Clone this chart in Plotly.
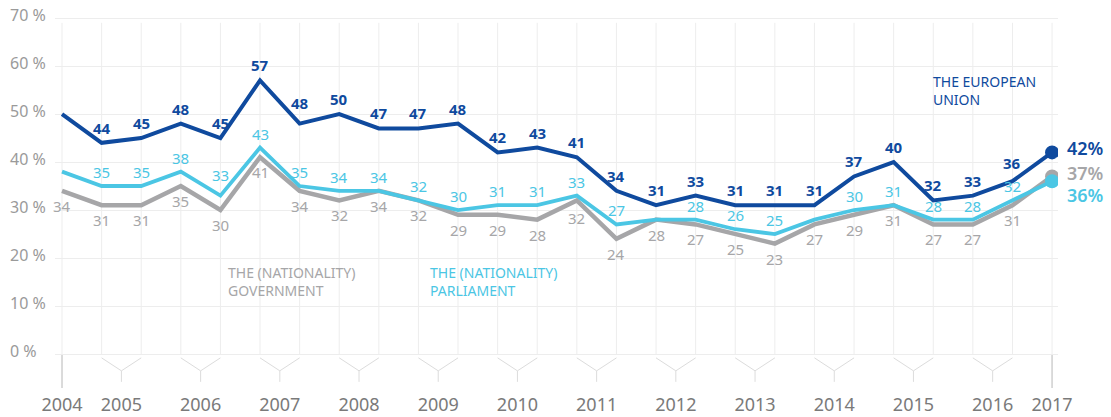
import plotly.graph_objects as go

# ---- data ----
years = ["2004", "2005", "2006", "2007", "2008", "2009", "2010",
         "2011", "2012", "2013", "2014", "2015", "2016", "2017"]
year_pos = [0, 1.5, 3.5, 5.5, 7.5, 9.5, 11.5, 13.5, 15.5, 17.5, 19.5, 21.5, 23.5, 25]

eu = [50, 44, 45, 48, 45, 57, 48, 50, 47, 47, 48, 42, 43, 41, 34, 31, 33, 31, 31, 31,
      37, 40, 32, 33, 36, 42]
parliament = [38, 35, 35, 38, 33, 43, 35, 34, 34, 32, 30, 31, 31, 33, 27, 28, 28, 26, 25, 28,
              30, 31, 28, 28, 32, 36]
government = [34, 31, 31, 35, 30, 41, 34, 32, 34, 32, 29, 29, 28, 32, 24, 28, 27, 25, 23, 27,
              29, 31, 27, 27, 31, 37]

y_ticks = [0, 10, 20, 30, 40, 50, 60, 70]

EU_C = "#0F4A9E"
PARL_C = "#4BC6E4"
GOV_C = "#A6A6A8"
FONT = "Noto Sans"

n = len(eu)
xs = list(range(n))

fig = go.Figure()

# lines
for vals, col, w in [(government, GOV_C, 4.5), (parliament, PARL_C, 3.8), (eu, EU_C, 4)]:
    fig.add_trace(go.Scatter(x=xs, y=vals, mode="lines", line=dict(color=col, width=w),
                             hoverinfo="skip", showlegend=False))

# end markers
for vals, col in [(government, GOV_C), (parliament, PARL_C), (eu, EU_C)]:
    fig.add_trace(go.Scatter(x=[xs[-1]], y=[vals[-1]], mode="markers",
                             marker=dict(color=col, size=14), hoverinfo="skip",
                             showlegend=False))

annotations = []

# value labels
hide = {"eu": {0, n - 1}, "parl": {0, 15, 19, n - 1}, "gov": {n - 1}}
extra = {("eu", 6): 6, ("eu", 24): 3, ("parl", 4): 7, ("gov", 13): -3}
for key, vals, col, shift, weight in [("eu", eu, EU_C, 15, "bold"),
                                      ("parl", parliament, PARL_C, 14, "normal"),
                                      ("gov", government, GOV_C, -15, "normal")]:
    for i, v in enumerate(vals):
        if i in hide[key]:
            continue
        ys = shift + extra.get((key, i), 0)
        annotations.append(dict(x=i, y=v, text=str(v), showarrow=False, yshift=ys,
                                font=dict(family=FONT, size=15, color=col, weight=weight)))

# end labels
for vals, col, ys in [(eu, EU_C, 4), (government, GOV_C, 3), (parliament, PARL_C, -14)]:
    annotations.append(dict(x=xs[-1], y=vals[-1], text=f"{vals[-1]}%", showarrow=False,
                            xanchor="left", xshift=13, yshift=ys,
                            font=dict(family=FONT, size=18, color=col, weight=600)))

# series labels
annotations.append(dict(x=21.95, y=54.9, text="THE EUROPEAN<br>UNION", showarrow=False,
                        xanchor="left", align="left",
                        font=dict(family=FONT, size=14, color=EU_C)))
annotations.append(dict(x=4.14, y=15.2, text="THE (NATIONALITY)<br>GOVERNMENT", showarrow=False,
                        xanchor="left", align="left",
                        font=dict(family=FONT, size=14, color=GOV_C)))
annotations.append(dict(x=9.23, y=15.2, text="THE (NATIONALITY)<br>PARLIAMENT", showarrow=False,
                        xanchor="left", align="left",
                        font=dict(family=FONT, size=14, color=PARL_C)))

# y tick labels (left aligned)
for t in y_ticks:
    annotations.append(dict(xref="paper", x=-0.047, y=t, text=f"{t} %", showarrow=False,
                            xanchor="left", yshift=3,
                            font=dict(family=FONT, size=16, color="#9A9A9A")))

shapes = []
# vertical grid lines at each survey
for i in xs:
    shapes.append(dict(type="line", x0=i, x1=i, y0=0, y1=69, xref="x", yref="y",
                       line=dict(color="#EDEDED", width=1), layer="below"))
# chevrons grouping surveys into years
for p in year_pos[1:-1]:
    shapes.append(dict(type="path", xref="x", yref="y",
                       path=f"M {p-0.5},-0.8 L {p},-3.5 L {p+0.5},-0.8 M {p},-3.5 L {p},-5.8",
                       line=dict(color="#DCDCDC", width=1), layer="below"))
for p in (year_pos[0], year_pos[-1]):
    shapes.append(dict(type="line", x0=p, x1=p, y0=-0.2, y1=-7.1, xref="x", yref="y",
                       line=dict(color="#CFCFCF", width=1.5), layer="below"))

fig.update_layout(
    width=1111, height=417,
    margin=dict(l=55, r=53, t=16, b=25),
    paper_bgcolor="white", plot_bgcolor="white",
    font=dict(family=FONT),
    xaxis=dict(range=[-0.177, 25.15], tickvals=year_pos, ticktext=years,
               showgrid=False, zeroline=False, showline=False, ticks="", automargin=False,
               tickfont=dict(family=FONT, size=18, color="#7A7A7A")),
    yaxis=dict(range=[-7.91, 70.42], tickvals=y_ticks, showticklabels=False,
               showgrid=True, gridcolor="#EDEDED", gridwidth=1.2, zeroline=False,
               showline=False, ticks="", automargin=False),
    annotations=annotations,
    shapes=shapes,
    showlegend=False,
)

fig.write_html("out.html", config={"displayModeBar": False},
               post_script="document.body.style.margin='0';")
